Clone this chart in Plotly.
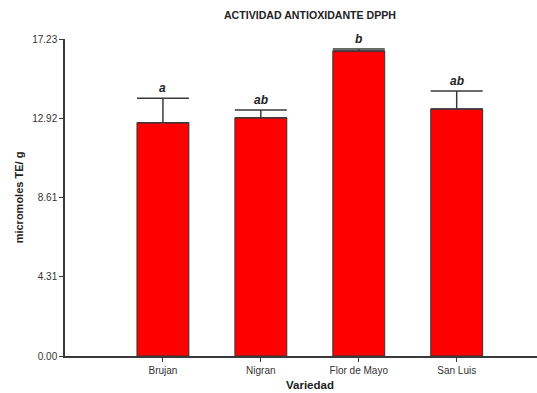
import plotly.graph_objects as go

variedades = ["Brujan", "Nigran", "Flor de Mayo", "San Luis"]
actividad = [12.68, 12.95, 16.58, 13.43]
error_std = [1.33, 0.42, 0.11, 0.98]
grupos = ["a", "ab", "b", "ab"]
y_ticks = [0.00, 4.31, 8.61, 12.92, 17.23]

x_pos = list(range(len(variedades)))
axis_col = "#3a3a3a"
font_fam = "Liberation Sans, Arial, sans-serif"

fig = go.Figure()
fig.add_trace(go.Bar(
    x=x_pos, y=actividad, width=0.53,
    marker=dict(color="#ff0000", line=dict(color="#333333", width=1)),
    error_y=dict(type="data", array=error_std, arrayminus=[0] * len(error_std),
                 symmetric=False, color=axis_col, thickness=1.5, width=26),
))

# significance letters above each error bar
for xi, v, e, g in zip(x_pos, actividad, error_std, grupos):
    fig.add_annotation(x=xi, y=v + e, text=f"<b><i>{g}</i></b>", showarrow=False,
                       yanchor="bottom", yshift=1,
                       font=dict(family=font_fam, size=12, color="#222222"))

# x-axis title placed as a paper annotation
fig.add_annotation(x=0.519, y=-0.0915, xref="paper", yref="paper",
                   text="<b>Variedad</b>", showarrow=False,
                   xanchor="center", yanchor="middle",
                   font=dict(family=font_fam, size=11.5, color="#222222"))

fig.update_layout(
    width=537, height=393,
    margin=dict(l=65, r=0, t=39, b=37),
    paper_bgcolor="white", plot_bgcolor="white",
    showlegend=False,
    title=dict(text="<b>ACTIVIDAD ANTIOXIDANTE DPPH</b>", x=310 / 537, xanchor="center",
               y=1 - 15 / 393, yanchor="middle",
               font=dict(family=font_fam, size=10.6, color="#222222")),
    font=dict(family=font_fam, size=10, color="#333333"),
)
fig.update_xaxes(
    range=[-1.0, 3.82], tickvals=x_pos, ticktext=variedades,
    showline=True, linecolor=axis_col, linewidth=1.5,
    ticks="outside", ticklen=4, tickcolor=axis_col, showgrid=False, zeroline=False,
    tickfont=dict(size=10, color="#333333"),
)
fig.update_yaxes(
    range=[0, 17.23], tickvals=y_ticks, ticktext=[f"{t:.2f}" for t in y_ticks],
    showline=True, linecolor=axis_col, linewidth=1.5,
    ticks="outside", ticklen=4, tickcolor=axis_col, showgrid=False, zeroline=False,
    tickfont=dict(size=10, color="#333333"),
    title=dict(text="<b>micromoles TE/ g</b>", standoff=6, font=dict(size=11, color="#222222")),
)

fig.write_html("out.html")
